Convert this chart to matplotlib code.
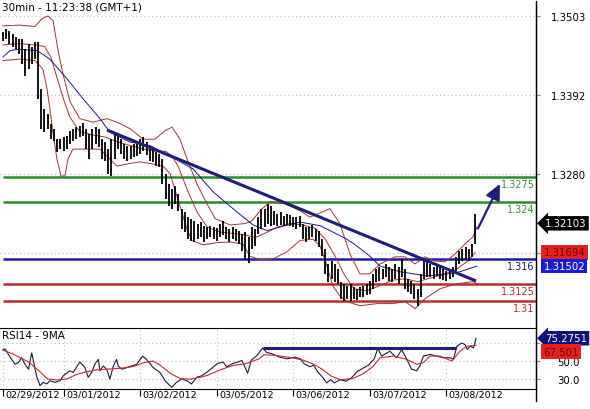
import numpy as np
import matplotlib
matplotlib.use('Agg')
import matplotlib.pyplot as plt
from matplotlib import transforms
from matplotlib.lines import Line2D

plt.rcParams['font.family'] = ['DejaVu Sans']

# ---------------- data (hourly bars) ----------------
bar_high = [
    1.3480, 1.3485, 1.3482, 1.3478, 1.3473, 1.3471, 1.3471, 1.3456, 1.3464, 1.3459,
    1.3466, 1.3466, 1.3400, 1.3372, 1.3365, 1.3351, 1.3344, 1.3329, 1.3329, 1.3332,
    1.3334, 1.3341, 1.3344, 1.3346, 1.3348, 1.3352, 1.3344, 1.3337, 1.3344, 1.3346,
    1.3344, 1.3329, 1.3325, 1.3315, 1.3329, 1.3339, 1.3337, 1.3329, 1.3322, 1.3320,
    1.3320, 1.3322, 1.3322, 1.3329, 1.3332, 1.3325, 1.3315, 1.3315, 1.3311, 1.3308,
    1.3301, 1.3280, 1.3266, 1.3259, 1.3263, 1.3252, 1.3231, 1.3226, 1.3219, 1.3217,
    1.3214, 1.3210, 1.3212, 1.3207, 1.3205, 1.3207, 1.3205, 1.3204, 1.3210, 1.3214,
    1.3205, 1.3202, 1.3205, 1.3202, 1.3200, 1.3195, 1.3198, 1.3191, 1.3205, 1.3202,
    1.3219, 1.3231, 1.3231, 1.3238, 1.3235, 1.3228, 1.3224, 1.3226, 1.3221, 1.3224,
    1.3222, 1.3219, 1.3219, 1.3221, 1.3210, 1.3205, 1.3205, 1.3208, 1.3202, 1.3200,
    1.3188, 1.3174, 1.3153, 1.3157, 1.3153, 1.3146, 1.3128, 1.3125, 1.3122, 1.3125,
    1.3121, 1.3118, 1.3121, 1.3122, 1.3125, 1.3129, 1.3139, 1.3146, 1.3149, 1.3146,
    1.3153, 1.3149, 1.3146, 1.3153, 1.3149, 1.3160, 1.3146, 1.3132, 1.3129, 1.3125,
    1.3118, 1.3139, 1.3160, 1.3157, 1.3153, 1.3149, 1.3153, 1.3149, 1.3146, 1.3143,
    1.3146, 1.3149, 1.3163, 1.3171, 1.3174, 1.3177, 1.3174, 1.3181, 1.3224,
]
bar_low = [
    1.3468, 1.3471, 1.3464, 1.3459, 1.3456, 1.3449, 1.3435, 1.3418, 1.3428, 1.3435,
    1.3442, 1.3386, 1.3344, 1.3339, 1.3344, 1.3329, 1.3327, 1.3311, 1.3315, 1.3312,
    1.3315, 1.3322, 1.3327, 1.3329, 1.3332, 1.3334, 1.3315, 1.3301, 1.3315, 1.3322,
    1.3318, 1.3301, 1.3298, 1.3280, 1.3277, 1.3301, 1.3315, 1.3308, 1.3301, 1.3298,
    1.3301, 1.3304, 1.3305, 1.3308, 1.3312, 1.3307, 1.3298, 1.3297, 1.3291, 1.3290,
    1.3266, 1.3245, 1.3235, 1.3231, 1.3238, 1.3228, 1.3202, 1.3198, 1.3188, 1.3186,
    1.3184, 1.3188, 1.3191, 1.3184, 1.3188, 1.3191, 1.3188, 1.3186, 1.3191, 1.3194,
    1.3188, 1.3184, 1.3188, 1.3186, 1.3181, 1.3171, 1.3160, 1.3154, 1.3174, 1.3178,
    1.3195, 1.3202, 1.3205, 1.3210, 1.3207, 1.3208, 1.3207, 1.3208, 1.3207, 1.3208,
    1.3207, 1.3205, 1.3202, 1.3205, 1.3188, 1.3184, 1.3188, 1.3191, 1.3186, 1.3177,
    1.3164, 1.3139, 1.3128, 1.3132, 1.3128, 1.3125, 1.3104, 1.3100, 1.3104, 1.3101,
    1.3104, 1.3102, 1.3107, 1.3107, 1.3109, 1.3111, 1.3118, 1.3128, 1.3129, 1.3132,
    1.3135, 1.3129, 1.3128, 1.3132, 1.3125, 1.3135, 1.3118, 1.3114, 1.3111, 1.3104,
    1.3094, 1.3107, 1.3132, 1.3135, 1.3135, 1.3132, 1.3136, 1.3132, 1.3131, 1.3129,
    1.3132, 1.3135, 1.3143, 1.3153, 1.3157, 1.3160, 1.3157, 1.3163, 1.3181,
]
last_price = 1.32103

day_labels = ['02/29/2012', '03/01/2012', '03/02/2012', '03/05/2012',
              '03/06/2012', '03/07/2012', '03/08/2012']
day_start = [0, 19, 43, 67, 91, 115, 139]

bb_upper_h = [0, 5.3, 10.0, 12.2, 14.1, 15.7, 17.2, 18.8, 21.0, 24.1,
              28.2, 32.6, 35.7, 39.8, 43.9, 47.6, 50.8, 53.0, 55.5, 57.7,
              60.8, 63.9, 66.5, 71.2, 75.9, 78.1, 80.6, 83.7, 88.4, 93.1,
              96.2, 99.4, 102.5, 105.6, 108.8, 111.9, 115.0, 118.2, 122.9, 126.0,
              129.2, 132.3, 135.4, 138.6, 141.7, 144.8, 147.3, 148.6]
bb_upper = [1.3489, 1.3490, 1.3488, 1.3499, 1.3503, 1.3496, 1.3456, 1.3421, 1.3382, 1.3358,
            1.3353, 1.3358, 1.3353, 1.3344, 1.3329, 1.3329, 1.3341, 1.3346, 1.3329, 1.3301,
            1.3266, 1.3238, 1.3217, 1.3208, 1.3210, 1.3214, 1.3228, 1.3241, 1.3238, 1.3228,
            1.3219, 1.3225, 1.3231, 1.3210, 1.3167, 1.3139, 1.3139, 1.3153, 1.3163, 1.3163,
            1.3153, 1.3163, 1.3157, 1.3156, 1.3167, 1.3181, 1.3191, 1.3205]

bb_lower_h = [0, 5.3, 10.0, 12.5, 13.8, 14.7, 15.7, 16.9, 18.2, 19.4,
              20.4, 21.9, 30.4, 33.5, 35.7, 38.9, 42.9, 47.0, 50.2, 52.4,
              54.5, 57.7, 59.2, 62.7, 67.1, 71.2, 75.2, 77.4, 80.6, 84.6,
              89.0, 93.1, 97.2, 99.4, 101.6, 103.4, 105.6, 107.8, 111.9, 117.2,
              122.3, 126.0, 129.2, 132.3, 137.0, 142.3, 147.3, 148.6]
bb_lower = [1.3440, 1.3442, 1.3440, 1.3428, 1.3400, 1.3372, 1.3337, 1.3301, 1.3277, 1.3277,
            1.3301, 1.3315, 1.3315, 1.3301, 1.3291, 1.3294, 1.3297, 1.3294, 1.3291, 1.3280,
            1.3249, 1.3202, 1.3186, 1.3180, 1.3183, 1.3184, 1.3181, 1.3164, 1.3159, 1.3160,
            1.3170, 1.3186, 1.3188, 1.3178, 1.3150, 1.3122, 1.3108, 1.3100, 1.3094, 1.3097,
            1.3097, 1.3100, 1.3090, 1.3104, 1.3118, 1.3125, 1.3128, 1.3125]

bb_mid_h = [0, 5, 10, 13, 15, 17, 19, 21, 24, 28,
            32, 36, 40, 44, 48, 51, 53, 55, 58, 61,
            64, 68, 72, 76, 79, 82, 86, 90, 94, 98,
            101, 104, 107, 110, 114, 118, 122, 126, 130, 134,
            138, 142, 146, 148]
bb_mid = [1.3462, 1.3464, 1.3462, 1.3460, 1.3445, 1.3415, 1.3385, 1.3360, 1.3340, 1.3335,
          1.3332, 1.3325, 1.3320, 1.3315, 1.3312, 1.3312, 1.3305, 1.3290, 1.3255, 1.3225,
          1.3205, 1.3198, 1.3196, 1.3194, 1.3190, 1.3196, 1.3205, 1.3210, 1.3208, 1.3203,
          1.3188, 1.3165, 1.3138, 1.3118, 1.3115, 1.3122, 1.3130, 1.3132, 1.3128, 1.3133,
          1.3138, 1.3145, 1.3158, 1.3169]
bb_mid_last = 1.31694

ma_h = [0, 2.2, 5.3, 10.7, 14.7, 20.1, 25.1, 30.4, 33.5, 39.8,
        46.1, 52.4, 59.6, 65.8, 72.1, 78.4, 82.8, 86.8, 93.1, 99.4,
        103.4, 107.8, 111.0, 115.0, 118.2, 124.5, 132.9, 139.2, 143.3, 148.6]
ma = [1.3445, 1.3454, 1.3456, 1.3454, 1.3442, 1.3414, 1.3386, 1.3358, 1.3339, 1.3325,
      1.3320, 1.3305, 1.3287, 1.3255, 1.3231, 1.3208, 1.3200, 1.3205, 1.3212, 1.3207,
      1.3198, 1.3188, 1.3178, 1.3164, 1.3150, 1.3142, 1.3136, 1.3139, 1.3142, 1.3150]
ma_last = 1.31502

trend_h = [32.6, 148.3]
trend_p = [1.3342, 1.3129]
arrow_h = [148.9, 155.8]
arrow_p = [1.3203, 1.3266]

levels = [1.3275, 1.324, 1.316, 1.3125, 1.31]
level_labels = ['1.3275', '1.324', '1.316', '1.3125', '1.31']
price_ticks = [1.3168, 1.3280, 1.3392, 1.3503]
price_tick_labels = ['', '1.3280', '1.3392', '1.3503']

rsi_h = [0, 0.6, 1.7, 2.7, 3.8, 4.8, 5.8, 6.9, 8.0, 9.0,
         10.5, 11.6, 12.6, 13.7, 14.7, 16.3, 17.9, 18.9, 21.0, 22.0,
         24.1, 25.7, 26.7, 27.8, 28.8, 29.9, 30.4, 31.4, 32.5, 33.5,
         34.6, 35.6, 36.1, 37.2, 38.8, 40.3, 41.9, 43.0, 43.8, 45.0,
         47.1, 49.2, 50.8, 51.8, 52.9, 54.4, 56.0, 57.6, 59.1, 60.7,
         62.3, 63.8, 65.4, 67.2, 69.0, 70.1, 71.9, 73.7, 74.9, 76.7,
         77.8, 79.6, 81.4, 82.6, 84.4, 86.7, 89.1, 91.5, 93.2, 94.4,
         96.2, 97.4, 98.6, 100.4, 101.5, 102.7, 103.9, 105.7, 107.5, 109.2,
         111.0, 112.8, 114.6, 116.4, 117.5, 118.7, 121.3, 123.4, 125.0, 126.6,
         128.1, 129.7, 130.7, 131.8, 133.9, 136.0, 138.1, 140.2, 141.2, 142.3,
         143.8, 144.9, 145.6, 146.5, 147.5, 148.3]
rsi = [62.7, 63.5, 57.3, 51.8, 46.4, 48.2, 53.6, 46.4, 40.9, 59.1,
       33.6, 22.7, 26.3, 24.5, 28.2, 26.3, 28.2, 33.6, 39.1, 37.3,
       48.9, 42.7, 31.8, 37.3, 46.4, 51.8, 39.1, 44.5, 40.9, 30.0,
       44.5, 51.8, 44.5, 40.9, 42.7, 44.5, 46.4, 51.8, 55.5, 51.8,
       42.7, 37.3, 28.2, 24.5, 20.9, 26.3, 30.0, 28.2, 24.5, 31.8,
       33.6, 37.3, 41.8, 47.1, 48.9, 43.6, 47.1, 48.9, 50.7, 36.4,
       50.7, 56.1, 64.5, 59.6, 57.9, 54.3, 52.5, 54.3, 52.5, 47.1,
       43.6, 45.4, 38.2, 31.1, 25.7, 29.3, 25.7, 29.3, 27.5, 31.1,
       38.2, 41.8, 45.4, 52.5, 64.0, 55.5, 60.9, 53.6, 62.7, 51.8,
       40.9, 39.1, 44.5, 55.5, 57.3, 55.5, 53.6, 53.6, 51.8, 66.4,
       70.0, 68.2, 62.7, 66.4, 64.5, 75.2751]

rsi_ma_h = [0, 3, 8, 11, 14, 17, 20, 23, 26, 29,
            33, 37, 41, 44, 47, 49, 53, 56, 59, 62,
            64, 68, 72, 76, 80, 82, 86, 90, 94, 97,
            100, 103, 106, 110, 113, 116, 118.2, 122.4, 126.6, 129.7,
            131.8, 133.9, 137.0, 140.7, 143.3, 145.4, 148.3]
rsi_ma = [62, 58, 49, 40, 30, 29, 30, 35, 38, 40,
          41, 42, 44, 48, 50, 46, 35, 30, 30, 32,
          34, 40, 45, 47, 52, 57, 56, 54, 51, 47,
          41, 33, 29, 31, 36, 44, 53.6, 55.5, 51.8, 46.4,
          48.2, 55.5, 55.5, 50.0, 60.9, 66.4, 67.501]

rsi_level = 64.4
rsi_level_h = [81.5, 142.0]
rsi_ticks = [30, 50, 70]
rsi_tick_labels = ['30.0', '50.0', '']

# ---------------- styling ----------------
GREEN = '#2b8c2b'
BLUE = '#1c1ca8'
RED = '#b3302c'
NAVY = '#1e1e78'
BAND = '#a83232'
GRID = '#bdbdbd'
FS = 7

W, H = 590, 410
fig = plt.figure(figsize=(W / 100, H / 100), dpi=100)
fig.patch.set_facecolor('white')

ax = fig.add_axes([0, 82 / H, 536 / W, 326 / H])
rax = fig.add_axes([0, 20 / H, 536 / W, 61.3 / H])

xlim = (-0.94, 167.1)
ax.set_xlim(*xlim)
rax.set_xlim(*xlim)
ax.set_ylim(1.3064, 1.3524)
rax.set_ylim(18.9, 87)

# ---- main panel ----
ax.grid(axis='y', color=GRID, linestyle=(0, (1, 2.5)), linewidth=0.8)
ax.set_axisbelow(True)

x = np.arange(len(bar_high))
ax.vlines(x, bar_low, bar_high, color='black', linewidth=1.3, zorder=4)

ax.plot(bb_upper_h, bb_upper, color=BAND, linewidth=0.7, zorder=3)
ax.plot(bb_mid_h, bb_mid, color=BAND, linewidth=0.7, zorder=3)
ax.plot(bb_lower_h, bb_lower, color=BAND, linewidth=0.7, zorder=3)
ax.plot(ma_h, ma, color='#1a1a8c', linewidth=0.7, zorder=3)

level_colors = [GREEN, GREEN, BLUE, RED, RED]
level_text_colors = ['#3a8f3a', '#3a8f3a', '#1a1a70', '#b3302c', '#b3302c']
for lvl, lbl, c, tc in zip(levels, level_labels, level_colors, level_text_colors):
    ax.hlines(lvl, 0, xlim[1], color=c, linewidth=1.8, zorder=2)
    ax.annotate(lbl, xy=(1, lvl), xycoords=('axes fraction', 'data'),
                xytext=(-1, -1.3), textcoords='offset points',
                ha='right', va='top', color=tc, fontsize=FS)

ax.plot(trend_h, trend_p, color=NAVY, linewidth=2.2, solid_capstyle='butt', zorder=5)
ax.annotate('', xy=(arrow_h[1], arrow_p[1]), xytext=(arrow_h[0], arrow_p[0]),
            arrowprops=dict(arrowstyle='-|>,head_length=0.95,head_width=0.45',
                            color=NAVY, lw=1.6, mutation_scale=10,
                            shrinkA=0, shrinkB=0), zorder=6)

for side in ['left', 'top', 'bottom']:
    ax.spines[side].set_visible(False)
ax.spines['right'].set_color('black')
ax.yaxis.tick_right()
ax.set_yticks(price_ticks)
ax.set_yticklabels(price_tick_labels)
ax.tick_params(axis='y', direction='out', length=3, width=0.8, color='#888888',
               pad=8, labelsize=FS + 0.3, labelcolor='black')
ax.tick_params(axis='x', bottom=False, labelbottom=False)

ax.text(2 / 536, 1 - 6 / 326, '30min - 11:23:38 (GMT+1)', transform=ax.transAxes,
        ha='left', va='center', fontsize=FS + 0.5, color='black')


def tag(axis, value, text, fc, tc, style, dx, dy=0):
    axis.annotate(text, xy=(1, value), xycoords=('axes fraction', 'data'),
                  xytext=(dx, dy), textcoords='offset points',
                  ha='left', va='center', fontsize=FS + 0.3, color=tc,
                  bbox=dict(boxstyle=style, fc=fc, ec='none'),
                  annotation_clip=False, zorder=10)


tag(ax, last_price, '1.32103', 'black', 'white', 'larrow,pad=0.22', 6.5)
tag(ax, bb_mid_last, '1.31694', '#e52020', '#7a0000', 'square,pad=0.22', 5.5)
tag(ax, ma_last, '1.31502', '#1a1ad0', 'white', 'square,pad=0.22', 5.5)

# ---- RSI panel ----
rax.grid(True, color=GRID, linestyle=(0, (1, 2.5)), linewidth=0.8)
rax.set_axisbelow(True)
rax.plot(rsi_h, rsi, color='#1a1a40', linewidth=0.8, zorder=3)
rax.plot(rsi_ma_h, rsi_ma, color='#c0302c', linewidth=0.8, zorder=3)
rax.hlines(rsi_level, rsi_level_h[0], rsi_level_h[1], color=NAVY, linewidth=2.2, zorder=4)

rax.spines['left'].set_visible(False)
for side in ['top', 'bottom', 'right']:
    rax.spines[side].set_color('black')
rax.yaxis.tick_right()
rax.set_yticks(rsi_ticks)
rax.set_yticklabels(rsi_tick_labels)
rax.tick_params(axis='y', direction='out', length=3, width=0.8, color='#888888',
                pad=12, labelsize=FS + 0.3)
rax.set_xticks(day_start)
rax.set_xticklabels(day_labels)
rax.tick_params(axis='x', direction='out', length=5, width=0.8, color='black',
                pad=-4.5, labelsize=FS - 0.2)
offset = transforms.ScaledTranslation(2.5 / 100, 0, fig.dpi_scale_trans)
for lab in rax.get_xticklabels():
    lab.set_horizontalalignment('left')
    lab.set_transform(lab.get_transform() + offset)

rax.text(2 / 536, 1 - 7.5 / 61.3, 'RSI14 - 9MA', transform=rax.transAxes,
         ha='left', va='center', fontsize=FS + 0.5, color='black')

tag(rax, rsi[-1], '75.2751', '#10107a', 'white', 'larrow,pad=0.22', 6.5)
tag(rax, rsi_ma[-1], '67.501', '#e52020', '#7a0000', 'square,pad=0.22', 5.5, -4.5)

fig.add_artist(Line2D([536 / W, 536 / W], [1 - 3 / H, 1 - 402 / H],
                      color='black', linewidth=1, transform=fig.transFigure))

fig.savefig('out.png', dpi=100, facecolor='white')
